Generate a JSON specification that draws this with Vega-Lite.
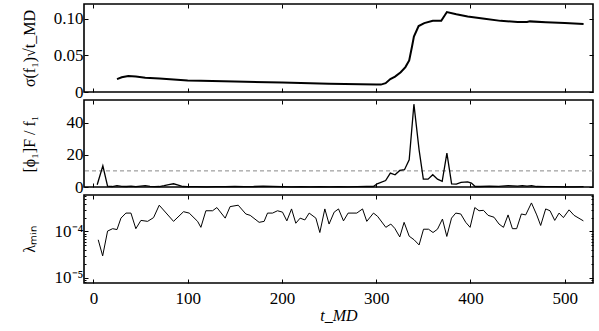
{
  "$schema": "https://vega.github.io/schema/vega-lite/v6.json",
  "background": "white",
  "bounds": "flush",
  "padding": {"left": 20, "top": 2, "right": 3, "bottom": 0},
  "spacing": 8,
  "config": {
    "font": "Liberation Serif",
    "view": {"stroke": "black", "strokeWidth": 1.6},
    "axis": {
      "domain": false, "grid": false, "tickSize": -4, "tickColor": "black", "tickWidth": 1,
      "labelFont": "Liberation Serif", "labelFontSize": 17, "labelColor": "black", "labelPadding": 5,
      "titleFont": "Liberation Serif", "titleFontSize": 16, "titleFontWeight": "normal", "titleColor": "black"
    },
    "axisLeft": {"titleX": -55, "titleBaseline": "middle"}
  },
  "datasets": {
    "top": [
      {"t":25,"v":0.0176},{"t":30,"v":0.020},{"t":37,"v":0.0218},{"t":45,"v":0.021},{"t":55,"v":0.0195},{"t":70,"v":0.0185},{"t":85,"v":0.017},{"t":100,"v":0.0158},{"t":114,"v":0.0153},{"t":150,"v":0.0143},{"t":200,"v":0.0128},{"t":250,"v":0.0114},{"t":300,"v":0.0103},{"t":305,"v":0.0101},{"t":310,"v":0.012},{"t":315,"v":0.0176},{"t":320,"v":0.021},{"t":326,"v":0.027},{"t":331,"v":0.034},{"t":335,"v":0.043},{"t":338,"v":0.062},{"t":340,"v":0.0755},{"t":345,"v":0.090},{"t":351,"v":0.094},{"t":360,"v":0.097},{"t":369,"v":0.097},{"t":375,"v":0.109},{"t":385,"v":0.106},{"t":397,"v":0.103},{"t":415,"v":0.100},{"t":432,"v":0.097},{"t":450,"v":0.0955},{"t":460,"v":0.0954},{"t":463,"v":0.0963},{"t":480,"v":0.095},{"t":500,"v":0.094},{"t":520,"v":0.0926}
    ],
    "mid": [
      {"t":4,"v":1.4},{"t":10,"v":13.1},{"t":15,"v":0.5},{"t":20,"v":0.3},{"t":25,"v":0.8},{"t":30,"v":0.4},{"t":35,"v":0.3},{"t":40,"v":0.5},{"t":45,"v":0.2},{"t":50,"v":0.6},{"t":55,"v":0.9},{"t":60,"v":0.4},{"t":65,"v":0.2},{"t":70,"v":0.3},{"t":75,"v":0.8},{"t":80,"v":1.5},{"t":85,"v":2},{"t":90,"v":1.2},{"t":95,"v":0.3},{"t":100,"v":0.2},{"t":110,"v":0.2},{"t":120,"v":0.1},{"t":130,"v":0.2},{"t":140,"v":0.2},{"t":150,"v":0.4},{"t":160,"v":0.2},{"t":170,"v":0.3},{"t":180,"v":0.6},{"t":190,"v":0.4},{"t":200,"v":0.2},{"t":210,"v":0.1},{"t":220,"v":0.2},{"t":230,"v":0.1},{"t":240,"v":0.2},{"t":250,"v":0.1},{"t":260,"v":0.2},{"t":270,"v":0.1},{"t":280,"v":0.2},{"t":290,"v":0.3},{"t":297,"v":0.3},{"t":301,"v":2},{"t":310,"v":4},{"t":315,"v":8.6},{"t":320,"v":7.6},{"t":325,"v":10.3},{"t":330,"v":10.7},{"t":335,"v":16.9},{"t":340,"v":51.4},{"t":345.5,"v":23},{"t":350,"v":4.9},{"t":355,"v":4.9},{"t":360,"v":7.6},{"t":365,"v":4.9},{"t":370,"v":3.5},{"t":375,"v":21},{"t":380,"v":2},{"t":385,"v":1.8},{"t":390,"v":2.9},{"t":397,"v":3.2},{"t":401,"v":2.4},{"t":405,"v":0.3},{"t":410,"v":0.3},{"t":420,"v":0.6},{"t":430,"v":0.4},{"t":440,"v":0.9},{"t":450,"v":0.6},{"t":455,"v":0.9},{"t":460,"v":0.5},{"t":465,"v":0.8},{"t":470,"v":0.3},{"t":480,"v":0.2},{"t":490,"v":0.2},{"t":500,"v":0.1},{"t":510,"v":0.1},{"t":520,"v":0.2}
    ],
    "bot": [
      {"t":5.1,"v":6.6e-5},{"t":9.8,"v":2.95e-5},{"t":15,"v":1.02e-4},{"t":20.4,"v":1.15e-4},{"t":25,"v":1.10e-4},{"t":29.2,"v":1.95e-4},{"t":34.5,"v":2.51e-4},{"t":39.8,"v":2.51e-4},{"t":45,"v":1.15e-4},{"t":50.4,"v":1.74e-4},{"t":57.5,"v":1.66e-4},{"t":63.8,"v":2.0e-4},{"t":69.8,"v":3.72e-4},{"t":85,"v":1.66e-4},{"t":95.6,"v":2.69e-4},{"t":101.6,"v":2.51e-4},{"t":110.5,"v":1.66e-4},{"t":114,"v":1.23e-4},{"t":119.3,"v":2.82e-4},{"t":126.4,"v":2.82e-4},{"t":131,"v":3.31e-4},{"t":139.8,"v":1.95e-4},{"t":145,"v":3.47e-4},{"t":153.6,"v":3.72e-4},{"t":161.7,"v":2.40e-4},{"t":166.3,"v":2.24e-4},{"t":175.8,"v":1.58e-4},{"t":181.1,"v":1.66e-4},{"t":184.7,"v":2.51e-4},{"t":190,"v":2.51e-4},{"t":195.3,"v":2.82e-4},{"t":200.6,"v":2.63e-4},{"t":205.2,"v":1.70e-4},{"t":210.2,"v":3.09e-4},{"t":214.7,"v":1.51e-4},{"t":219.3,"v":1.95e-4},{"t":224.3,"v":1.78e-4},{"t":228.9,"v":2.51e-4},{"t":236,"v":1.95e-4},{"t":240.2,"v":9.5e-5},{"t":245.5,"v":3.09e-4},{"t":250,"v":1.45e-4},{"t":255.4,"v":2.63e-4},{"t":260,"v":3.09e-4},{"t":265.3,"v":1.70e-4},{"t":270.2,"v":2.51e-4},{"t":279.4,"v":2.51e-4},{"t":285.5,"v":3.09e-4},{"t":290,"v":1.66e-4},{"t":297.1,"v":2.51e-4},{"t":301.4,"v":2.14e-4},{"t":310.2,"v":1.23e-4},{"t":315.5,"v":1.45e-4},{"t":319.7,"v":1.17e-4},{"t":325,"v":7.6e-5},{"t":329.6,"v":1.58e-4},{"t":335,"v":7.9e-5},{"t":340.2,"v":6.6e-5},{"t":345.5,"v":5.1e-5},{"t":350.2,"v":1.12e-4},{"t":355.5,"v":1.12e-4},{"t":360.3,"v":9.5e-5},{"t":365,"v":1.12e-4},{"t":370.3,"v":1.86e-4},{"t":374.9,"v":7.8e-5},{"t":379.9,"v":1.95e-4},{"t":384.4,"v":2.51e-4},{"t":389.7,"v":2.40e-4},{"t":395,"v":1.58e-4},{"t":399.6,"v":1.23e-4},{"t":404.6,"v":3.31e-4},{"t":409.1,"v":2.82e-4},{"t":413.8,"v":2.88e-4},{"t":418.7,"v":2.24e-4},{"t":425,"v":2.04e-4},{"t":430.3,"v":1.45e-4},{"t":435,"v":1.23e-4},{"t":439.9,"v":2.29e-4},{"t":444.5,"v":1.15e-4},{"t":449,"v":1.15e-4},{"t":454,"v":2.40e-4},{"t":458.6,"v":2.29e-4},{"t":464.7,"v":4.17e-4},{"t":470.3,"v":2.29e-4},{"t":474.5,"v":1.35e-4},{"t":479.8,"v":3.09e-4},{"t":484.4,"v":2.82e-4},{"t":489.4,"v":1.74e-4},{"t":494,"v":2.51e-4},{"t":498.6,"v":2.0e-4},{"t":504.6,"v":2.95e-4},{"t":509.9,"v":2.24e-4},{"t":519.8,"v":1.70e-4}
    ],
    "thr": [{"v": 10}]
  },
  "vconcat": [
    {
      "width": 509, "height": 88,
      "layer": [
        {
          "data": {"name": "top"},
          "mark": {"type": "line", "color": "black", "strokeWidth": 2},
          "encoding": {
            "x": {"field": "t", "type": "quantitative", "scale": {"domain": [-10, 530], "nice": false, "zero": false},
                  "axis": {"orient": "bottom", "values": [0,100,200,300,400,500], "labels": false, "title": null}},
            "y": {"field": "v", "type": "quantitative", "scale": {"domain": [0, 0.12], "nice": false},
                  "axis": {"orient": "left", "values": [0, 0.05, 0.1], "labelExpr": "datum.value == 0 ? '0' : format(datum.value, '.2f')", "title": "σ(f₁)√t_MD"}}
          }
        },
        {
          "data": {"name": "top"},
          "mark": {"type": "line", "opacity": 0},
          "encoding": {
            "x": {"field": "t", "type": "quantitative", "scale": {"domain": [-10, 530], "nice": false, "zero": false},
                  "axis": {"orient": "top", "values": [0,100,200,300,400,500], "labels": false, "title": null}},
            "y": {"field": "v", "type": "quantitative", "scale": {"domain": [0, 0.12], "nice": false},
                  "axis": {"orient": "right", "values": [0, 0.05, 0.1], "labels": false, "title": null}}
          }
        }
      ]
    },
    {
      "width": 509, "height": 87,
      "layer": [
        {
          "data": {"name": "thr"},
          "mark": {"type": "rule", "color": "#888888", "strokeWidth": 1, "strokeDash": [4, 3]},
          "encoding": {"y": {"field": "v", "type": "quantitative", "scale": {"domain": [0, 54], "nice": false}, "axis": null}}
        },
        {
          "data": {"name": "mid"},
          "mark": {"type": "line", "color": "black", "strokeWidth": 1.3},
          "encoding": {
            "x": {"field": "t", "type": "quantitative", "scale": {"domain": [-10, 530], "nice": false, "zero": false},
                  "axis": {"orient": "bottom", "values": [0,100,200,300,400,500], "labels": false, "title": null}},
            "y": {"field": "v", "type": "quantitative", "scale": {"domain": [0, 54], "nice": false},
                  "axis": {"orient": "left", "values": [0, 20, 40], "title": "[ϕ₁]F / f₁"}}
          }
        },
        {
          "data": {"name": "mid"},
          "mark": {"type": "line", "opacity": 0},
          "encoding": {
            "x": {"field": "t", "type": "quantitative", "scale": {"domain": [-10, 530], "nice": false, "zero": false},
                  "axis": {"orient": "top", "values": [0,100,200,300,400,500], "labels": false, "title": null}},
            "y": {"field": "v", "type": "quantitative", "scale": {"domain": [0, 54], "nice": false},
                  "axis": {"orient": "right", "values": [0, 20, 40], "labels": false, "title": null}}
          }
        }
      ]
    },
    {
      "width": 509, "height": 88,
      "layer": [
        {
          "data": {"name": "bot"},
          "mark": {"type": "line", "color": "black", "strokeWidth": 1},
          "encoding": {
            "x": {"field": "t", "type": "quantitative", "scale": {"domain": [-10, 530], "nice": false, "zero": false},
                  "axis": {"orient": "bottom", "values": [0,100,200,300,400,500], "labelPadding": 11, "title": "t_MD", "titleFontStyle": "italic", "titlePadding": 1}},
            "y": {"field": "v", "type": "quantitative", "scale": {"type": "log", "domain": [7.6e-6, 6.2e-4], "nice": false},
                  "axis": {"orient": "left", "values": [8e-6, 9e-6, 1e-5, 2e-5, 3e-5, 4e-5, 5e-5, 6e-5, 7e-5, 8e-5, 9e-5, 1e-4, 2e-4, 3e-4, 4e-4, 5e-4, 6e-4],
                           "labelExpr": "datum.value == 1e-5 ? '10⁻⁵' : (datum.value == 1e-4 ? '10⁻⁴' : '')",
                           "tickSize": {"condition": {"test": "datum.value == 1e-5 || datum.value == 1e-4", "value": -4}, "value": -2},
                           "title": "λₘᵢₙ"}}
          }
        },
        {
          "data": {"name": "bot"},
          "mark": {"type": "line", "opacity": 0},
          "encoding": {
            "x": {"field": "t", "type": "quantitative", "scale": {"domain": [-10, 530], "nice": false, "zero": false},
                  "axis": {"orient": "top", "values": [0,100,200,300,400,500], "labels": false, "title": null}},
            "y": {"field": "v", "type": "quantitative", "scale": {"type": "log", "domain": [7.6e-6, 6.2e-4], "nice": false},
                  "axis": {"orient": "right", "values": [8e-6, 9e-6, 1e-5, 2e-5, 3e-5, 4e-5, 5e-5, 6e-5, 7e-5, 8e-5, 9e-5, 1e-4, 2e-4, 3e-4, 4e-4, 5e-4, 6e-4],
                           "labels": false,
                           "tickSize": {"condition": {"test": "datum.value == 1e-5 || datum.value == 1e-4", "value": -4}, "value": -2},
                           "title": null}}
          }
        }
      ]
    }
  ]
}
